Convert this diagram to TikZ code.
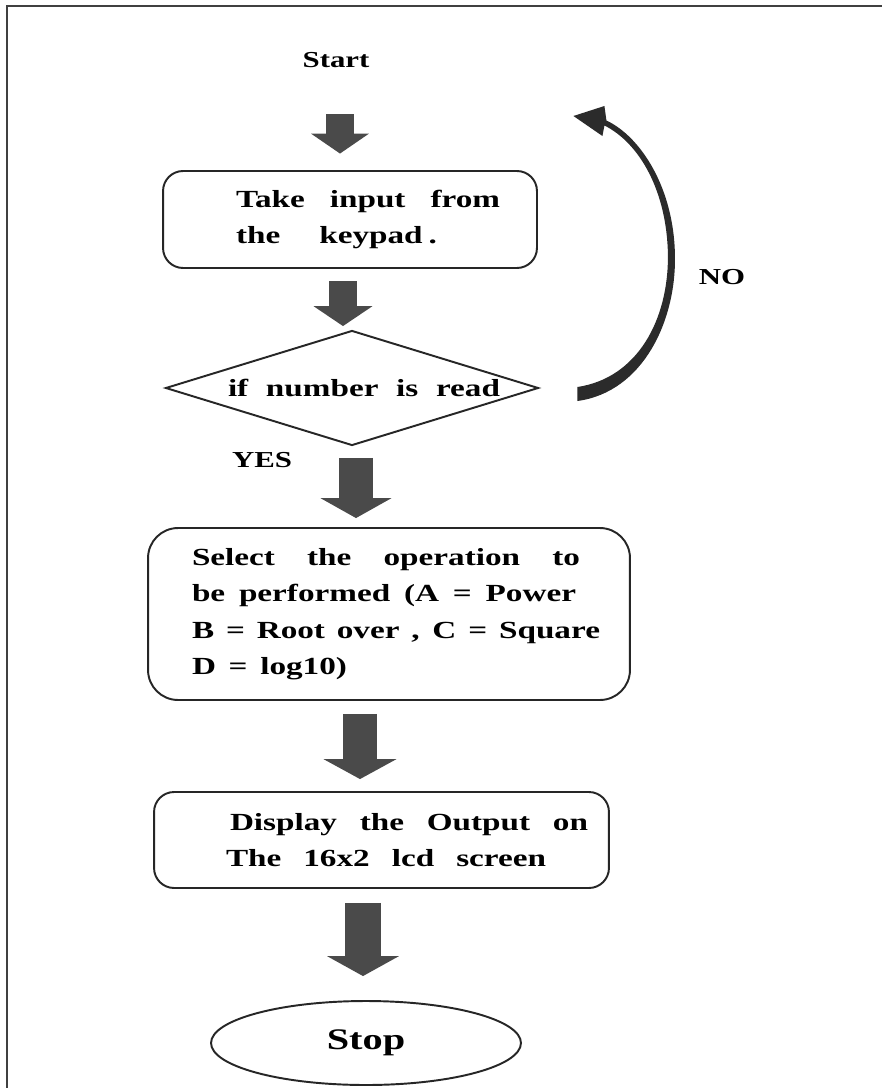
\documentclass[tikz,border=0pt]{standalone}
\usepackage{fontspec}
\setmainfont{Liberation Serif}[FakeStretch=1.35]
\usepackage{tikz}
\usetikzlibrary{shapes.geometric,arrows.meta}
\usepackage{xcolor}
\definecolor{arrowgray}{HTML}{4A4A4A}
\definecolor{nocurve}{HTML}{2B2B2B}
\newlength{\pxu}
\setlength{\pxu}{0.02cm}
\newcommand{\tline}[3]{\hspace*{#1\pxu}\makebox[#2\pxu][s]{#3}}

\begin{document}
\begin{tikzpicture}[x=0.02cm, y=-0.02cm,
    every node/.style={font=\bfseries\fontsize{14}{20.7}\selectfont},
    procbox/.style={draw=black!85, line width=1.1pt, rounded corners=#1, align=left, inner sep=0pt},
    decbox/.style={draw=black!85, line width=1.1pt, diamond, shape aspect=3.24, inner sep=0pt,
        minimum width=7.46cm, minimum height=2.3cm},
    termbox/.style={draw=black!85, line width=1.1pt, ellipse, minimum width=6.2cm, minimum height=1.68cm},
    blk/.style 2 args={draw=arrowgray, line width=#1, -{Triangle[width=#2, length=11.3pt, line width=0pt]}},
    lbl/.style={font=\bfseries\fontsize{13}{15}\selectfont}
  ]
        \useasboundingbox (0,0) rectangle (882,1088);
        \fill[white] (0,0) rectangle (882,1088);
        % frame
        \draw[black!75, line width=1.2pt] (7,1088) |- (882,6);

        \node[lbl, inner sep=0pt] (start) at (336,60) {Start};
        \node[procbox=0.4cm, minimum width=7.48cm, minimum height=1.94cm] (take) at (350,219.5)
            {\tline{36}{264}{Take input from}\\ \tline{36}{201}{the keypad\hspace{0.12cm}.}};
        \node[decbox] (dec) at (352,388) {\tline{24}{272}{if number is read}};
        \node[procbox=0.6cm, minimum width=9.64cm, minimum height=3.44cm] (sel) at (389,614)
            {\tline{14}{388}{Select the operation to}\\
             \tline{14}{384}{be performed (A = Power}\\
             \tline{14}{408}{B = Root over , C = Square}\\
             \tline{14}{155}{D = log10)}};
        \node[procbox=0.4cm, minimum width=9.1cm, minimum height=1.92cm] (disp) at (381.5,840)
            {\tline{55}{358}{Display the Output on}\\ \tline{51}{320}{The 16x2 lcd screen}};
        \node[termbox, font=\bfseries\fontsize{17}{20}\selectfont] (stop) at (366,1043) {Stop};

        \node[lbl] (no) at (722,277) {NO};
        \node[lbl] (yes) at (262,460) {YES};

        % block arrows
        \draw[blk={15.9pt}{32.9pt}] ([shift={(4,46)}]start.south) -- ([shift={(-10,-16.5)}]take.north);
        \draw[blk={15.9pt}{33.5pt}] ([shift={(-7,12.5)}]take.south) -- ([shift={(-9,-3.5)}]dec.north);
        \draw[blk={19.3pt}{40.3pt}] ([shift={(4,11.5)}]dec.south) -- ([shift={(-33,-9)}]sel.north);
        \draw[blk={19.3pt}{41.4pt}] ([shift={(-29,13)}]sel.south) -- ([shift={(-21.5,-12)}]disp.north);
        \draw[blk={21pt}{40.8pt}] ([shift={(-18.5,14)}]disp.south) -- ([shift={(-3,-24)}]stop.north);

        % loop back (NO)
        \begin{scope}[shift={(dec.east)}]
            \fill[nocurve] (38,13) .. controls (104,4) and (137,-68) .. (135.5,-133)
                .. controls (134.5,-199) and (102,-251) .. (67,-267.5)
                -- (65,-282) -- (34,-272) -- (63,-252) -- (65,-262.5)
                .. controls (100,-245) and (127.5,-197) .. (128.5,-133)
                .. controls (129,-68) and (98,-10) .. (38,-1) -- cycle;
        \end{scope}
\end{tikzpicture}
\end{document}
